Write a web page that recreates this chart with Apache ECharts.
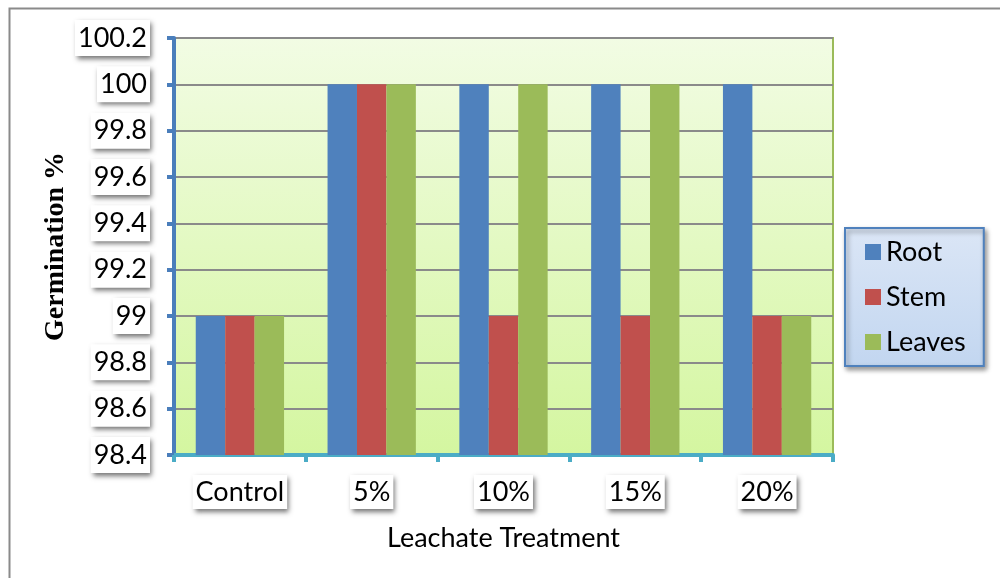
<!DOCTYPE html>
<html>
<head>
<meta charset="utf-8">
<script src="https://cdn.jsdelivr.net/npm/echarts@6/dist/echarts.min.js"></script>
<style>
  html, body { margin: 0; padding: 0; background: #ffffff; }
  #chart { width: 1000px; height: 578px; }
</style>
</head>
<body>
<div id="chart"></div>
<script>
// Germination % by leachate treatment and plant part
const categories = ['Control', '5%', '10%', '15%', '20%'];
const rootValues = [99, 100, 100, 100, 100];
const stemValues = [99, 100, 99, 99, 99];
const leavesValues = [99, 100, 100, 100, 99];
const seriesNames = ['Root', 'Stem', 'Leaves'];
const seriesColors = ['#4f81bd', '#c0504d', '#9bbb59'];

const labelFont = 'Lato, "Open Sans", sans-serif';
const boxStyle = {
  backgroundColor: '#ffffff',
  shadowColor: 'rgba(0,0,0,0.55)',
  shadowBlur: 5,
  shadowOffsetX: 2,
  shadowOffsetY: 3
};

const chart = echarts.init(document.getElementById('chart'));

chart.setOption({
  animation: false,
  graphic: [{
    type: 'rect',
    left: 7, top: 6,
    shape: { width: 1020, height: 600 },
    style: { fill: 'none', stroke: '#8a8a8a', lineWidth: 2 },
    silent: true,
    z: -1
  }],
  grid: {
    left: 174, right: 167, top: 38, bottom: 123,
    show: true,
    backgroundColor: new echarts.graphic.LinearGradient(0, 0, 0, 1, [
      { offset: 0, color: '#f2fce4' },
      { offset: 1, color: '#d4f6a0' }
    ]),
    borderColor: '#9bbb59',
    borderWidth: 2
  },
  legend: {
    orient: 'vertical',
    left: 845, top: 228,
    padding: [9, 18, 9, 20],
    itemGap: 15,
    itemWidth: 16, itemHeight: 16,
    icon: 'rect',
    backgroundColor: new echarts.graphic.LinearGradient(0, 0, 0, 1, [
      { offset: 0, color: '#dbe6f6' },
      { offset: 1, color: '#c2d6f0' }
    ]),
    borderColor: '#4f81bd',
    borderWidth: 2,
    shadowColor: 'rgba(0,0,0,0.4)',
    shadowBlur: 5,
    shadowOffsetX: 2,
    shadowOffsetY: 3,
    textStyle: { fontFamily: labelFont, fontSize: 27, color: '#000', lineHeight: 30 },
    data: seriesNames
  },
  xAxis: {
    type: 'category',
    data: categories,
    name: 'Leachate Treatment',
    nameLocation: 'middle',
    nameGap: 70,
    nameMoveOverlap: false,
    nameTextStyle: { fontFamily: labelFont, fontSize: 27, color: '#000' },
    axisLine: { lineStyle: { color: '#4bacc6', width: 4 } },
    axisTick: { show: true, length: 7, lineStyle: { color: '#4bacc6', width: 4 } },
    axisLabel: Object.assign({
      margin: 20,
      fontFamily: labelFont,
      fontSize: 27,
      color: '#000',
      padding: [4, 3, 3, 3]
    }, boxStyle)
  },
  yAxis: {
    type: 'value',
    min: 98.4, max: 100.2, interval: 0.2,
    name: 'Germination %',
    nameLocation: 'middle',
    nameRotate: 90,
    nameGap: 104,
    nameMoveOverlap: false,
    nameTextStyle: { fontFamily: '"Liberation Serif", "Times New Roman", serif', fontWeight: 'bold', fontSize: 28, color: '#000' },
    axisLine: { show: true, lineStyle: { color: '#4a7ebb', width: 4 } },
    axisTick: { show: true, length: 7, lineStyle: { color: '#4a7ebb', width: 4 } },
    splitLine: { lineStyle: { color: '#8a8a8a', width: 2 } },
    axisLabel: Object.assign({
      margin: 24,
      fontFamily: labelFont,
      fontSize: 27,
      color: '#000',
      padding: [5, 3, 4, 3],
      formatter: function (v) { return String(Math.round(v * 10) / 10); }
    }, boxStyle)
  },
  series: [rootValues, stemValues, leavesValues].map(function (vals, i) {
    return {
      name: seriesNames[i],
      type: 'bar',
      data: vals,
      barGap: '0%',
      barCategoryGap: '33%',
      itemStyle: { color: seriesColors[i] }
    };
  })
});
</script>
</body>
</html>
